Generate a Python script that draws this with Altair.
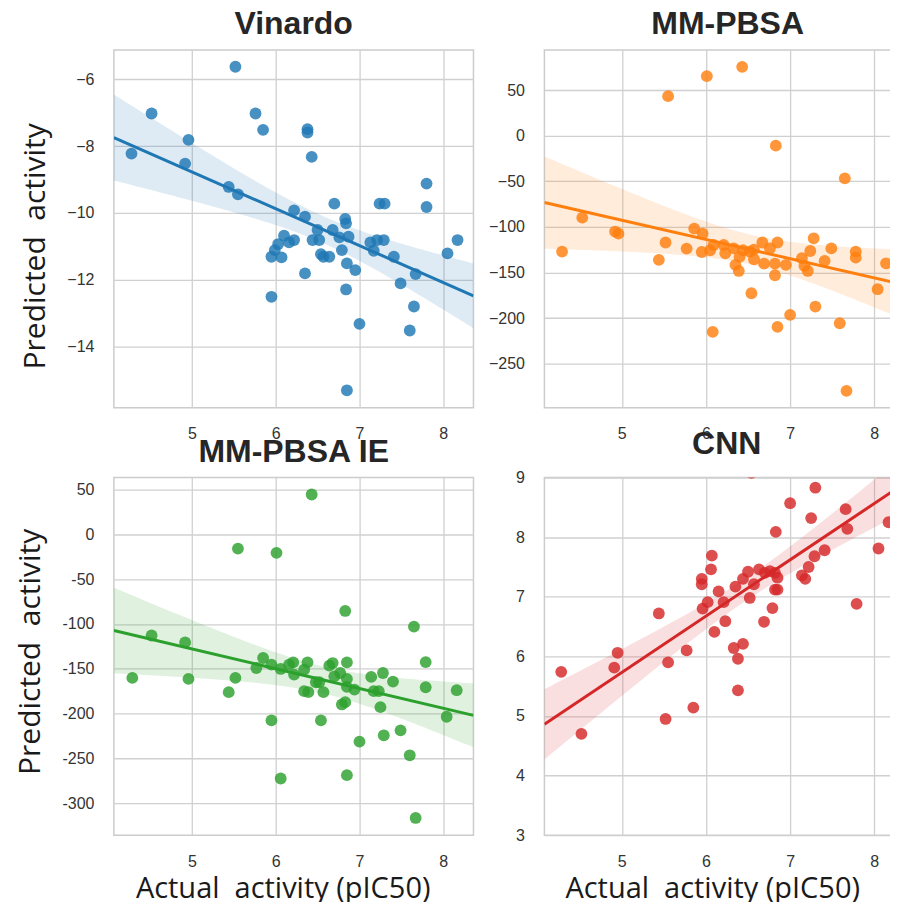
import altair as alt
import numpy as np
import pandas as pd

# ---------------- data ----------------
vin_x = [5.52, 4.52, 5.76, 5.85, 6.38, 6.38, 6.43, 4.96, 4.28, 4.92,
         5.44, 5.55, 6.70, 7.24, 7.30, 6.22, 6.35, 6.83, 6.84, 6.50,
         6.68, 6.10, 6.22, 6.16, 6.87, 6.76, 6.44, 6.52, 6.03, 7.13,
         7.21, 7.29, 7.17, 5.99, 5.95, 6.07, 6.54, 6.57, 6.64, 6.79,
         7.41, 6.85, 6.95, 6.35, 7.49, 6.84, 5.95, 7.00, 6.85, 7.80,
         7.80, 7.65, 7.60, 7.67, 8.05, 8.17]
vin_y = [-5.62, -7.02, -7.02, -7.51, -7.49, -7.59, -8.32, -7.81, -8.22, -8.52,
         -9.22, -9.44, -9.72, -9.72, -9.72, -9.92, -10.11, -10.18, -10.31, -10.51,
         -10.51, -10.68, -10.81, -10.88, -10.71, -10.73, -10.81, -10.81, -10.93, -10.88,
         -10.81, -10.81, -11.13, -11.11, -11.31, -11.33, -11.23, -11.31, -11.31, -11.11,
         -11.31, -11.51, -11.71, -11.81, -12.11, -12.29, -12.51, -13.32, -15.31, -9.12,
         -9.82, -12.80, -13.52, -11.83, -11.21, -10.81]

mm_x = [6.43, 6.01, 5.55, 6.83, 7.65, 4.53, 4.29, 4.92, 4.96, 5.52,
        5.44, 5.77, 5.86, 5.96, 5.95, 6.05, 6.09, 6.21, 6.23, 6.33,
        6.44, 6.52, 6.57, 6.40, 6.57, 6.35, 6.39, 6.67, 6.85, 6.76,
        6.69, 6.82, 6.95, 6.82, 6.54, 6.08, 6.85, 7.00, 7.28, 7.24,
        7.14, 7.17, 7.21, 7.49, 7.41, 7.78, 7.78, 7.30, 7.59, 7.67,
        8.04, 8.14]
mm_y = [75.5, 65.3, 43.4, -10.9, -46.7, -89.8, -127, -105, -107.3, -117,
        -136, -123.7, -101.8, -107.3, -127.4, -125.5, -119.7, -119.7, -128.8, -123.4,
        -125.5, -127, -124.8, -132.8, -135.4, -141.6, -148.2, -117, -117, -123.4,
        -140.2, -140.2, -141.6, -152.9, -172.6, -215, -209.5, -196.4, -112.4, -126.3,
        -134.3, -142.7, -148.2, -123.4, -137.2, -127, -133.6, -187.2, -205.5, -279.6,
        -168.2, -139.8]

ie_x = [6.43, 5.55, 6.01, 6.83, 4.52, 4.92, 4.29, 4.96, 5.52, 5.44,
        5.77, 5.85, 5.95, 6.06, 6.16, 6.21, 6.22, 6.34, 6.38, 6.34,
        6.39, 6.48, 6.52, 6.57, 6.64, 6.68, 6.70, 6.77, 6.85, 6.85,
        6.85, 6.94, 6.79, 6.83, 6.54, 5.95, 6.06, 6.85, 7.00, 7.14,
        7.28, 7.40, 7.17, 7.23, 7.25, 7.29, 7.49, 7.65, 7.79, 7.79,
        7.60, 7.67, 8.04, 8.16]
ie_y = [44.4, -15.9, -20.7, -85.5, -112.9, -120.6, -160.2, -161.3, -160.2, -176.1,
        -149.1, -138, -145.4, -150.2, -145.4, -142.8, -156.5, -151, -142.8, -175,
        -176.1, -165, -165, -176.1, -146.5, -143.6, -158.4, -154.7, -142.8, -161.3,
        -170.2, -173.2, -189.8, -187.2, -207.6, -207.6, -272.4, -268.7, -231.3, -159.1,
        -154.7, -164.3, -175, -175, -192.8, -224.2, -218.7, -102.9, -142.5, -170.6,
        -246.5, -316.4, -203.5, -173.9]

cnn_x = [4.28, 4.52, 4.95, 4.91, 5.44, 5.52, 5.55, 5.77, 5.85, 5.95,
         5.95, 5.96, 6.02, 6.07, 6.06, 6.10, 6.15, 6.21, 6.23, 6.33,
         6.44, 6.38, 6.38, 6.35, 6.44, 6.50, 6.52, 6.57, 6.63, 6.70,
         6.76, 6.82, 6.85, 6.83, 6.69, 6.79, 6.82, 6.85, 7.00, 7.30,
         7.25, 7.14, 7.18, 7.22, 7.29, 7.41, 7.66, 7.68, 7.79, 8.05,
         8.17, 6.54]
cnn_y = [5.74, 4.70, 6.06, 5.81, 6.72, 4.95, 5.90, 6.10, 5.14, 7.30,
         7.21, 6.80, 6.91, 7.69, 7.46, 6.41, 7.09, 6.91, 6.59, 6.14,
         6.21, 5.96, 5.43, 7.17, 7.30, 7.42, 6.98, 7.21, 7.46, 7.40,
         7.43, 7.40, 7.32, 8.09, 6.58, 6.81, 7.12, 7.12, 8.57, 8.83,
         8.32, 7.36, 7.30, 7.50, 7.68, 7.78, 8.47, 8.14, 6.88, 7.81,
         8.25, 9.08]

# fitted regression lines (y at left / right edge)
vin_fit = [-7.74, -12.48]
mm_fit = [-73.2, -161.5]
ie_fit = [-107.3, -202.0]
cnn_fit = [4.86, 8.82]

titles = ["Vinardo", "MM-PBSA", "MM-PBSA IE", "CNN"]
colors = ["#1f77b4", "#ff7f0e", "#2ca02c", "#d62728"]
x_ticks = [5, 6, 7, 8]
vin_ticks = [-14, -12, -10, -8, -6]
mm_ticks = [-250, -200, -150, -100, -50, 0, 50]
ie_ticks = [-300, -250, -200, -150, -100, -50, 0, 50]
cnn_ticks = [3, 4, 5, 6, 7, 8, 9]
y_title = "Predicted\u00a0 activity"
x_title = "Actual\u00a0 activity (pIC50)"


def ci_band(x, y, lo, hi, fit_ends, n=120, t=2.005):
    """95% band: spread from the points, centred on the drawn fit line."""
    x = np.asarray(x, float)
    y = np.asarray(y, float)
    b, a = np.polyfit(x, y, 1)
    resid = y - (a + b * x)
    s = np.sqrt((resid ** 2).sum() / (len(x) - 2))
    xm = x.mean()
    sxx = ((x - xm) ** 2).sum()
    g = np.linspace(lo, hi, n)
    se = s * np.sqrt(1.0 / len(x) + (g - xm) ** 2 / sxx)
    fit = np.interp(g, [lo, hi], fit_ends)
    return pd.DataFrame({"x": g, "lo": fit - t * se, "hi": fit + t * se})


def panel(x, y, fit_ends, color, title, xdom, ydom, yticks, w, h, ytitle,
          xtitle, title_dx=0, ytx=0, yty=0, xtx=0, hyphen=False):
    pts = pd.DataFrame({"x": x, "y": y})
    band = ci_band(x, y, xdom[0], xdom[1], fit_ends)
    fit = pd.DataFrame({"x": list(xdom), "y": fit_ends})
    xs = alt.Scale(domain=xdom, nice=False, zero=False)
    ys = alt.Scale(domain=ydom, nice=False, zero=False)
    xaxis_kw = dict(values=x_ticks, title=xtitle, labelPadding=18)
    if xtitle:
        xaxis_kw.update(titleX=xtx, titleY=62, titleAlign="center",
                        titleBaseline="alphabetic", titleFontSize=29)
    yaxis_kw = dict(values=yticks, title=ytitle, labelPadding=20)
    if ytitle:
        yaxis_kw.update(titleX=ytx, titleY=yty, titleAngle=270,
                        titleAlign="center", titleBaseline="middle")
    if hyphen:
        yaxis_kw["labelExpr"] = "replace(datum.label, '\u2212', '-')"
    xaxis = alt.Axis(**xaxis_kw)
    yaxis = alt.Axis(**yaxis_kw)

    points = alt.Chart(pts).mark_circle(
        size=140, opacity=0.82, color=color, clip=True
    ).encode(
        x=alt.X("x:Q", scale=xs, axis=xaxis),
        y=alt.Y("y:Q", scale=ys, axis=yaxis),
    )
    area = alt.Chart(band).mark_area(
        opacity=0.15, color=color, clip=True
    ).encode(
        x=alt.X("x:Q", scale=xs, axis=xaxis),
        y=alt.Y("lo:Q", scale=ys, axis=yaxis),
        y2="hi:Q",
    )
    line = alt.Chart(fit).mark_line(
        color=color, strokeWidth=3, clip=True
    ).encode(
        x=alt.X("x:Q", scale=xs, axis=xaxis),
        y=alt.Y("y:Q", scale=ys, axis=yaxis),
    )
    return alt.layer(points, area, line).properties(
        width=w, height=h,
        title=alt.TitleParams(
            text=title, fontSize=32, font="Liberation Sans", fontWeight="bold",
            color="#262626", frame="group", anchor="middle",
            baseline="alphabetic", offset=-16.3, dx=title_dx,
        ),
    )


p1 = panel(vin_x, vin_y, vin_fit, colors[0], titles[0], (4.07, 8.36),
           (-15.83, -5.12), vin_ticks, 360, 358, y_title, "",
           ytx=-78, yty=196)
p2 = panel(mm_x, mm_y, mm_fit, colors[1], titles[1], (4.08, 8.27),
           (-298, 93.9), mm_ticks, 353, 358, "", "", title_dx=7)
p3 = panel(ie_x, ie_y, ie_fit, colors[2], titles[2], (4.07, 8.36),
           (-335.6, 63.3), ie_ticks, 360, 358, y_title, x_title,
           ytx=-83, yty=174, xtx=169, hyphen=True)
p4 = panel(cnn_x, cnn_y, cnn_fit, colors[3], titles[3], (4.08, 8.27),
           (3, 9), cnn_ticks, 353, 358, "", x_title, title_dx=6, xtx=168)

chart = alt.concat(
    p1, p2, p3, p4, columns=2, bounds="flush",
    spacing={"row": 70, "column": 71},
).properties(
    padding={"left": 7, "top": -1.4, "right": -8, "bottom": -3},
    background="white",
).configure_axis(
    grid=True, gridColor="#d0d0d0", gridWidth=1.3,
    domain=False, ticks=False, tickSize=0,
    labelFont="Liberation Sans", labelFontSize=16, labelColor="#333333",
    titleFont="Open Sans", titleFontSize=30, titleColor="#1a1a1a",
    titleFontWeight="normal",
).configure_view(
    stroke="#cccccc", strokeWidth=1.5,
)

chart.save("out.html", embed_options={"renderer": "svg", "actions": False})
